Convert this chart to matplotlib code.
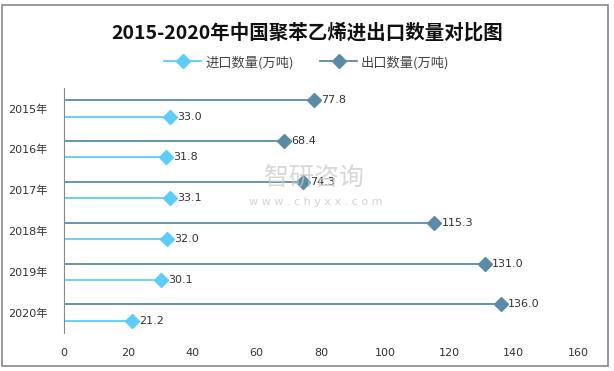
import matplotlib.pyplot as plt
from matplotlib.lines import Line2D
from matplotlib.patches import Rectangle

plt.rcParams['font.family'] = ['DejaVu Sans', 'Noto Sans CJK SC']

years = ['2015年', '2016年', '2017年', '2018年', '2019年', '2020年']
imports = [33.0, 31.8, 33.1, 32.0, 30.1, 21.2]
exports = [77.8, 68.4, 74.3, 115.3, 131.0, 136.0]

imp_color = '#5bcdf8'
exp_color = '#5a8ca8'

fig = plt.figure(figsize=(6.14, 3.71), dpi=100)
ax = fig.add_axes([0.1042, 0.1024, 0.8372, 0.6604])

n = len(years)
for i in range(n):
    y_exp = i - 0.2
    y_imp = i + 0.2
    ax.plot([0, exports[i]], [y_exp, y_exp], color=exp_color, lw=1.3, zorder=2)
    ax.plot([exports[i]], [y_exp], marker='D', color=exp_color, ms=7, zorder=3)
    ax.text(exports[i] + 2.2, y_exp, f'{exports[i]:.1f}', va='center', ha='left',
            fontsize=8, color='#333333', zorder=4)
    ax.plot([0, imports[i]], [y_imp, y_imp], color=imp_color, lw=1.3, zorder=2)
    ax.plot([imports[i]], [y_imp], marker='D', color=imp_color, ms=7, zorder=3)
    ax.text(imports[i] + 2.2, y_imp, f'{imports[i]:.1f}', va='center', ha='left',
            fontsize=8, color='#333333', zorder=4)

ax.set_xlim(0, 160)
ax.set_ylim(n - 0.5, -0.5)
ax.set_xticks(range(0, 161, 20))
ax.set_yticks(range(n))
ax.set_yticklabels(years)
ax.tick_params(axis='both', length=0, labelsize=8, colors='#333333')
ax.tick_params(axis='x', pad=11)
ax.tick_params(axis='y', pad=12)
for s in ['top', 'right', 'bottom']:
    ax.spines[s].set_visible(False)
ax.spines['left'].set_color('#888888')

# watermark
fig.text(0.512, 0.52, '智研咨询', fontsize=18, color='#c8c8c8', alpha=0.7,
         ha='center', va='center', zorder=0, family='Noto Sans CJK SC')
fig.text(0.515, 0.455, 'w w w . c h y x x . c o m', fontsize=8, color='#c8c8c8',
         alpha=0.8, ha='center', va='center', zorder=0)

fig.suptitle('2015-2020年中国聚苯乙烯进出口数量对比图', x=0.5, y=0.94,
             fontsize=14, fontweight='bold', color='#111111',
             family=['Noto Sans CJK SC'])

handles = [
    Line2D([0, 1], [0, 0], color=imp_color, lw=1.3, marker='D', ms=7, markevery=[1]),
    Line2D([0, 1], [0, 0], color=exp_color, lw=1.3, marker='D', ms=7, markevery=[1]),
]
fig.legend(handles, ['进口数量(万吨)', '出口数量(万吨)'], loc='center',
           bbox_to_anchor=(0.5, 0.832), ncol=2, frameon=False,
           handlelength=2.8, columnspacing=2.0, handletextpad=0.3,
           labelcolor='#444444', prop={'family': 'Noto Sans CJK SC', 'size': 9.5})

fig.add_artist(Rectangle((2 / 614, 5 / 371), 606 / 614, 361 / 371,
                         transform=fig.transFigure, fill=False,
                         edgecolor='#888888', lw=1.2))

fig.savefig('out.png', dpi=100)
